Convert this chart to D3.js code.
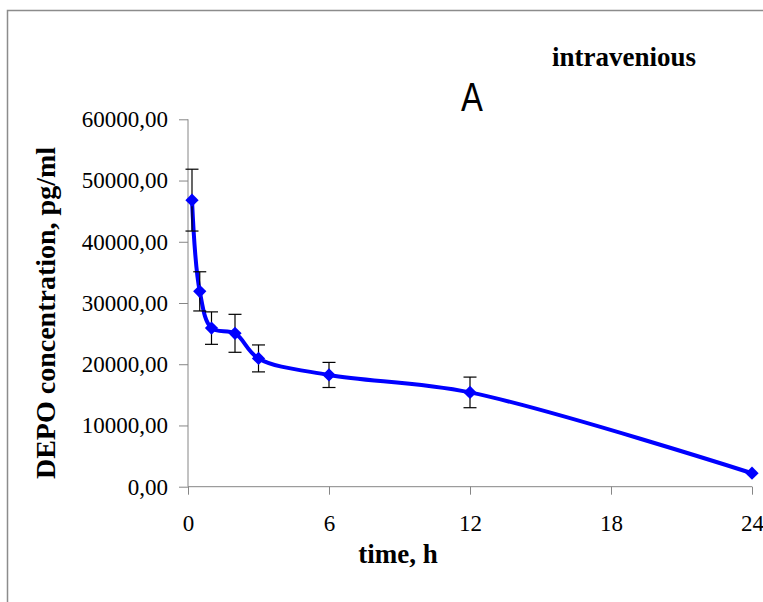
<!DOCTYPE html>
<html>
<head>
    <title>DEPO concentration</title>
</head>
<meta charset="utf-8">
<style type="text/css">
    html, body {
        margin: 0;
        background: #fff;
        overflow: hidden;
    }
    svg {
        display: block;
    }
    svg text {
        font-family: "Liberation Serif", "Times New Roman", serif;
    }
    .axis path, .axis line {
        stroke: #868686;
    }
</style>
<body>
<svg id="chart" width="763" height="602"></svg>

<script src="https://d3js.org/d3.v7.min.js"></script>
<script>
    "use strict";

    // time after injection, h
    const times = [0.17, 0.5, 1, 2, 3, 6, 12, 24];
    // mean DEPO concentration, pg/ml
    const conc = [46800, 31900, 25900, 25050, 20950, 18250, 15400, 2200];
    // error (+/-)
    const errs = [5050, 3200, 2650, 3100, 2200, 2050, 2500, 0];

    const xTicks = [0, 6, 12, 18, 24];
    const yTicks = [0, 10000, 20000, 30000, 40000, 50000, 60000];

    const svg = d3.select("#chart");

    const x = d3.scaleLinear().domain([0, 24]).range([188, 752]);
    const y = d3.scaleLinear().domain([0, 60000]).range([486.7, 119.3]);

    const comma = d3.formatLocale({decimal: ",", thousands: "", grouping: [3], currency: ["", ""]});
    const fmt = comma.format(".2f");

    // outer frame, only its left and top edges are inside the picture
    svg.append("path")
        .attr("d", "M7.5,602V10.5H763")
        .attr("fill", "none")
        .attr("stroke", "#8c8c8c")
        .attr("stroke-width", 1.5);

    // axes
    const gy = svg.append("g")
        .attr("class", "axis")
        .attr("transform", "translate(188,0)")
        .call(d3.axisLeft(y).tickValues(yTicks).tickFormat(fmt).tickSize(9).tickPadding(11));
    gy.select(".domain").attr("d", "M0," + y(60000) + "V" + y(0));
    gy.selectAll("text").attr("font-size", 23).attr("fill", "#000");

    const gx = svg.append("g")
        .attr("class", "axis")
        .attr("transform", "translate(0," + y(0) + ")")
        .call(d3.axisBottom(x).tickValues(xTicks).tickFormat(d3.format("d")).tickSize(8).tickPadding(20));
    gx.select(".domain").attr("d", "M" + x(0) + ",0H" + x(24));
    gx.selectAll("text").attr("font-size", 23).attr("fill", "#000");

    const pts = times.map((t, i) => ({t: t, v: conc[i], e: errs[i]}));

    // smoothed line
    const line = d3.line()
        .x(d => x(d.t))
        .y(d => y(d.v))
        .curve(d3.curveCatmullRom.alpha(0.5));

    svg.append("path")
        .datum(pts)
        .attr("d", line)
        .attr("fill", "none")
        .attr("stroke", "#0000ff")
        .attr("stroke-width", 4)
        .attr("stroke-linejoin", "round");

    // error bars
    const eb = svg.append("g")
        .attr("stroke", "#000")
        .attr("stroke-width", 1.2)
        .selectAll("g")
        .data(pts.filter(d => d.e > 0))
        .join("g");
    eb.append("line")
        .attr("x1", d => x(d.t)).attr("x2", d => x(d.t))
        .attr("y1", d => y(d.v + d.e)).attr("y2", d => y(d.v - d.e));
    eb.append("line")
        .attr("x1", d => x(d.t) - 6.5).attr("x2", d => x(d.t) + 6.5)
        .attr("y1", d => y(d.v + d.e)).attr("y2", d => y(d.v + d.e));
    eb.append("line")
        .attr("x1", d => x(d.t) - 6.5).attr("x2", d => x(d.t) + 6.5)
        .attr("y1", d => y(d.v - d.e)).attr("y2", d => y(d.v - d.e));

    // diamond markers
    svg.append("g")
        .selectAll("path")
        .data(pts)
        .join("path")
        .attr("d", d3.symbol(d3.symbolSquare, 88))
        .attr("transform", d => "translate(" + x(d.t) + "," + y(d.v) + ") rotate(45)")
        .attr("fill", "#0000ff");

    // titles
    svg.append("text")
        .attr("x", 398).attr("y", 563)
        .attr("text-anchor", "middle")
        .attr("font-size", 27)
        .attr("font-weight", "bold")
        .text("time, h");

    svg.append("text")
        .attr("transform", "translate(55,313) rotate(-90)")
        .attr("text-anchor", "middle")
        .attr("font-size", 28)
        .attr("font-weight", "bold")
        .text("DEPO concentration, pg/ml");

    svg.append("text")
        .attr("x", 624).attr("y", 66)
        .attr("text-anchor", "middle")
        .attr("font-size", 27)
        .attr("font-weight", "bold")
        .text("intravenious");

    svg.append("text")
        .attr("transform", "translate(472,111) scale(0.82,1)")
        .attr("text-anchor", "middle")
        .attr("font-size", 40)
        .style("font-family", "'Liberation Sans', Arial, sans-serif")
        .text("A");
</script>
</body>
</html>
